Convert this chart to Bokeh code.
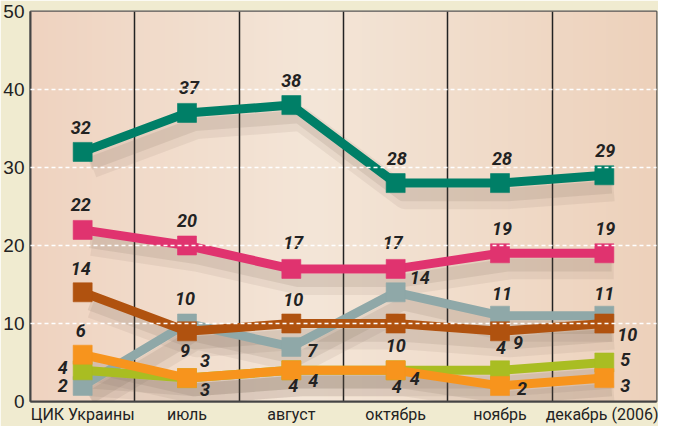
import numpy as np
from bokeh.plotting import figure
from bokeh.models import Range1d, FixedTicker, ColumnDataSource
from bokeh.core.properties import value
from bokeh.transform import dodge
from bokeh.embed import file_html
from bokeh.resources import INLINE

# ---- data ----
categories = ["ЦИК Украины", "июль", "август", "октябрь", "ноябрь", "декабрь (2006)"]
y_ticks = [0, 10, 20, 30, 40, 50]
green = [32, 37, 38, 28, 28, 29]
pink = [22, 20, 17, 17, 19, 19]
brown = [14, 9, 10, 10, 9, 10]
gray = [2, 10, 7, 14, 11, 11]
lime = [4, 3, 4, 4, 4, 5]
orange = [6, 3, 4, 4, 2, 3]

# ---- styling / label placement (pixels) ----
series = [
    ("gray", gray, "#8fa8a8",
     [(-20, 0), (-2, -25), (21, 4), (24, -15), (2, -22), (0, -22)]),
    ("lime", lime, "#a9bd22",
     [(-20, -3), (18, -18), (2, 15), (1, 16), (1, -23), (21, -3)]),
    ("orange", orange, "#f7941d",
     [(-2, -24), (18, 11), (22, 10), (19, 8), (22, 3), (21, 7)]),
    ("brown", brown, "#b0520f",
     [(-2, -24), (-2, 19), (2, -24), (0, 22), (18, 11), (23, 11)]),
    ("pink", pink, "#e0336f",
     [(-2, -25), (0, -25), (2, -26), (-3, -26), (2, -25), (1, -25)]),
    ("green", green, "#007f67",
     [(-2, -24), (2, -25), (0, -25), (1, -25), (2, -25), (1, -25)]),
]

FONT = "Roboto"
CREAM = "#f0ebd0"

xs = [i + 0.5 for i in range(len(categories))]

p = figure(width=658, height=426, output_backend="svg", toolbar_location=None,
           x_range=Range1d(0, len(categories)), y_range=Range1d(0, 50),
           min_border_left=28, min_border_right=2, min_border_top=11,
           min_border_bottom=22)
p.background_fill_color = "#f1dccb"
p.border_fill_color = CREAM
p.outline_line_color = "#555555"
p.outline_line_width = 2

# background gradient of the plotting area
N = 300
stops = [0.0, 0.45, 1.0]
cols = np.array([[0xef, 0xd3, 0xc0], [0xf4, 0xe6, 0xd8], [0xed, 0xd1, 0xbb]], dtype=float)
t = np.linspace(0, 1, N)
rgb = np.stack([np.interp(t, stops, cols[:, k]) for k in range(3)], axis=1).astype(np.uint8)
img = np.empty((1, N), dtype=np.uint32)
view = img.view(dtype=np.uint8).reshape((1, N, 4))
view[0, :, 0] = rgb[:, 0]
view[0, :, 1] = rgb[:, 1]
view[0, :, 2] = rgb[:, 2]
view[0, :, 3] = 255
p.image_rgba(image=[img], x=0, y=0, dw=len(categories), dh=50, level="image")

# axes
p.xaxis.ticker = FixedTicker(ticks=xs)
p.xaxis.major_label_overrides = {x: c for x, c in zip(xs, categories)}
p.yaxis.ticker = FixedTicker(ticks=y_ticks)
for ax in (p.xaxis[0], p.yaxis[0]):
    ax.axis_line_color = "#444444"
    ax.axis_line_width = 2
    ax.major_tick_line_color = None
    ax.minor_tick_line_color = None
    ax.major_tick_out = 0
    ax.major_tick_in = 0
    ax.minor_tick_out = 0
    ax.minor_tick_in = 0
    ax.major_label_text_color = "#222222"
p.xaxis.major_label_text_font = FONT
p.xaxis.major_label_text_font_size = "16px"
p.xaxis.major_label_standoff = 3
p.yaxis.major_label_text_font = "Liberation Sans"
p.yaxis.major_label_text_font_size = "19px"
p.yaxis.major_label_standoff = 6

# grids
p.xgrid.ticker = FixedTicker(ticks=[1, 2, 3, 4, 5])
p.xgrid.grid_line_color = "#222222"
p.xgrid.grid_line_width = 1.5
p.ygrid.ticker = FixedTicker(ticks=[10, 20, 30, 40])
p.ygrid.grid_line_color = "white"
p.ygrid.grid_line_width = 1.5
p.ygrid.grid_line_dash = "4 3"
p.ygrid.level = "overlay"

sources = []
for name, vals, color, offs in series:
    src = ColumnDataSource(dict(x=xs, y=vals, lbl=[str(v) for v in vals],
                                dx=[o[0] for o in offs], dy=[o[1] for o in offs]))
    sources.append((src, color))

# soft shadows
for src, color in sources:
    p.line(x=dodge("x", 0.09), y=dodge("y", -1.8), source=src,
           line_color="#6e5a4e", line_alpha=0.09, line_width=24, line_join="round")
    p.line(x=dodge("x", 0.07), y=dodge("y", -1.5), source=src,
           line_color="#6e5a4e", line_alpha=0.12, line_width=13, line_join="round")

for src, color in sources:
    p.line(x="x", y="y", source=src, line_color=color, line_width=9)
    p.scatter(x="x", y="y", source=src, marker="square", size=19,
              fill_color=color, line_color=color, line_alpha=0.6)

for src, color in sources:
    p.text(x="x", y="y", text="lbl", source=src, x_offset="dx", y_offset="dy",
           text_align="center", text_baseline="middle",
           text_font=value(FONT), text_font_style="bold italic",
           text_font_size="18px", text_color="#222222")

open("out.html", "w").write(file_html(p, INLINE))
